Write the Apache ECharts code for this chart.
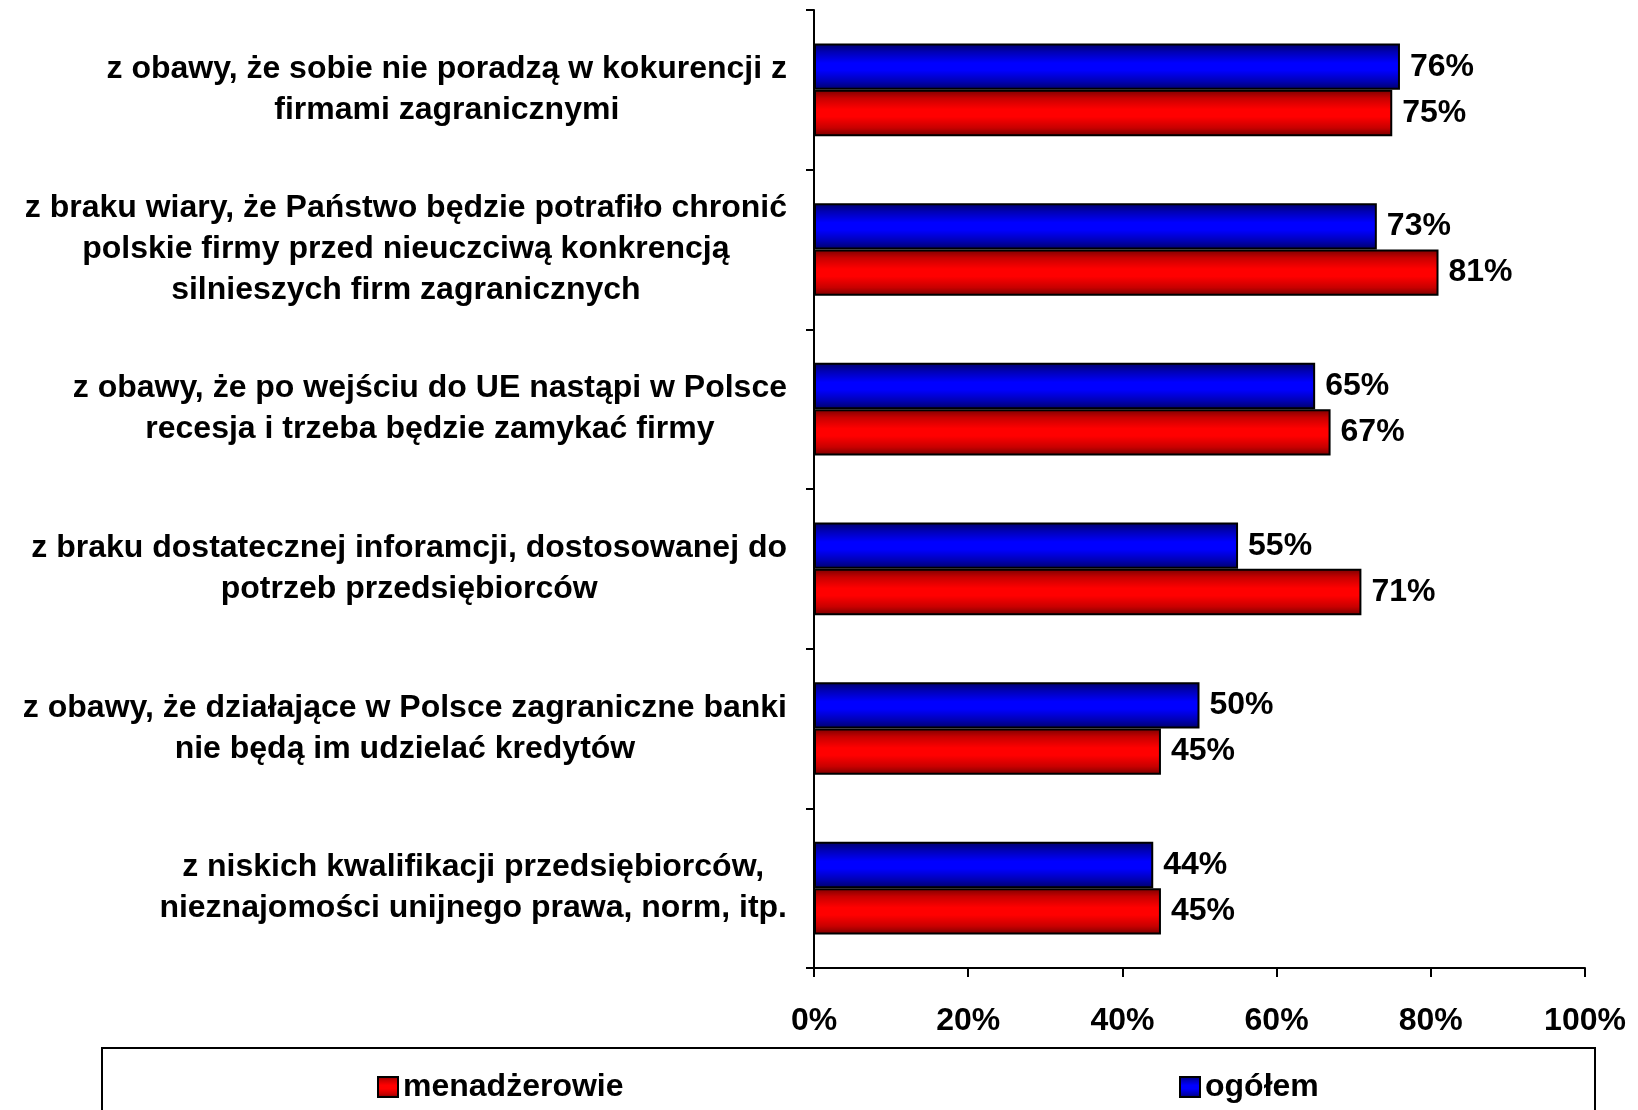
<!DOCTYPE html>
<html>
<head>
<meta charset="utf-8">
<script src="https://cdn.jsdelivr.net/npm/echarts@6/dist/echarts.min.js"></script>
<style>
  html, body { margin: 0; padding: 0; background: #fff; }
  #chart { width: 1638px; height: 1110px; }
</style>
</head>
<body>
<div id="chart"></div>
<script>
// kategorie (od góry)
const categories = [
  'z obawy, że sobie nie poradzą w kokurencji z\nfirmami zagranicznymi',
  'z braku wiary, że Państwo będzie potrafiło chronić\npolskie firmy przed nieuczciwą konkrencją\nsilnieszych firm zagranicznych',
  'z obawy, że po wejściu do UE nastąpi w Polsce\nrecesja i trzeba będzie zamykać firmy',
  'z braku dostatecznej inforamcji, dostosowanej do\npotrzeb przedsiębiorców',
  'z obawy, że działające w Polsce zagraniczne banki\nnie będą im udzielać kredytów',
  'z niskich kwalifikacji przedsiębiorców,\nnieznajomości unijnego prawa, norm, itp.'
];
const ogolem = [76, 73, 65, 55, 50, 44];
const menadzerowie = [75, 81, 67, 71, 45, 45];
const xTicks = [0, 20, 40, 60, 80, 100];

const font = '"Liberation Sans", Arial, sans-serif';

function grad(dark, mid, bright) {
  return new echarts.graphic.LinearGradient(0, 0, 0, 1, [
    { offset: 0, color: dark },
    { offset: 0.18, color: mid },
    { offset: 0.42, color: bright },
    { offset: 0.58, color: bright },
    { offset: 0.82, color: mid },
    { offset: 1, color: dark }
  ]);
}

const legendText = { fontSize: 32, fontWeight: 'bold', color: '#000', fontFamily: font };

const mycharts = echarts.init(document.getElementById('chart'));
mycharts.setOption({
  animation: false,
  textStyle: { fontFamily: font },
  grid: { left: 814, right: 53, top: 10, bottom: 142, containLabel: false },
  legend: [
    {
      data: ['menadżerowie'],
      left: 372, top: 1066,
      icon: 'rect',
      itemWidth: 20, itemHeight: 20,
      textStyle: legendText
    },
    {
      data: ['ogółem'],
      left: 1174, top: 1066,
      icon: 'rect',
      itemWidth: 20, itemHeight: 20,
      textStyle: legendText
    }
  ],
  graphic: [{
    type: 'rect',
    shape: { x: 102, y: 1048, width: 1493, height: 100 },
    style: { fill: 'none', stroke: '#000', lineWidth: 2 },
    silent: true
  }],
  xAxis: {
    type: 'value',
    min: 0, max: 100, interval: 20,
    axisLine: { show: true, lineStyle: { color: '#000', width: 2 } },
    axisTick: { show: true, length: 9, lineStyle: { color: '#000', width: 2 } },
    splitLine: { show: false },
    axisLabel: {
      margin: 37,
      fontSize: 32, fontWeight: 'bold', color: '#000', fontFamily: font,
      formatter: function (v) { return v + '%'; }
    }
  },
  yAxis: {
    type: 'category',
    data: categories,
    inverse: true,
    axisLine: { show: true, lineStyle: { color: '#000', width: 2 } },
    axisTick: { show: true, length: 8, lineStyle: { color: '#000', width: 2 } },
    axisLabel: {
      margin: 27,
      formatter: function (v) { return '{a|' + v + '}'; },
      rich: {
        a: { fontSize: 32, fontWeight: 'bold', color: '#000', fontFamily: font, lineHeight: 41, align: 'center' }
      }
    }
  },
  series: [
    {
      name: 'ogółem',
      type: 'bar',
      data: ogolem,
      barGap: '0%',
      barCategoryGap: '42%',
      itemStyle: { color: grad('#000068', '#0000b4', '#0000ff'), borderColor: '#000', borderWidth: 2 },
      label: {
        show: true, position: 'right', distance: 10,
        fontSize: 32, fontWeight: 'bold', color: '#000', fontFamily: font,
        formatter: '{c}%'
      }
    },
    {
      name: 'menadżerowie',
      type: 'bar',
      data: menadzerowie,
      barGap: '0%',
      barCategoryGap: '42%',
      itemStyle: { color: grad('#780000', '#c80000', '#ff0000'), borderColor: '#000', borderWidth: 2 },
      label: {
        show: true, position: 'right', distance: 10,
        fontSize: 32, fontWeight: 'bold', color: '#000', fontFamily: font,
        formatter: '{c}%'
      }
    }
  ]
});
</script>
</body>
</html>
